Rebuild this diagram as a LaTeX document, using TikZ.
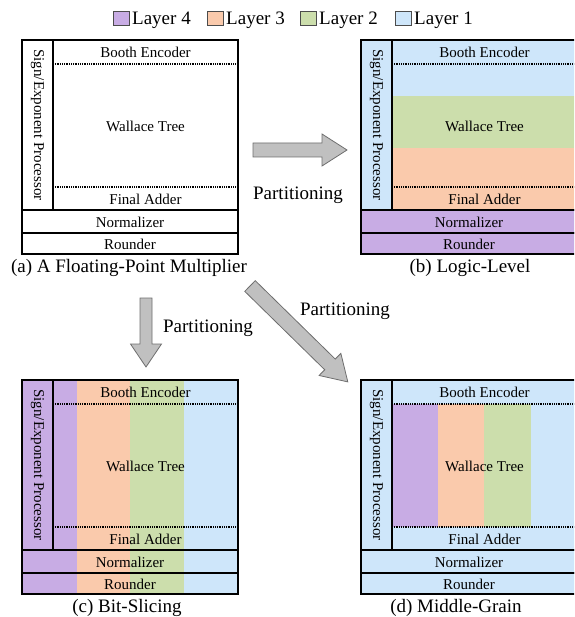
\documentclass[tikz,border=0pt]{standalone}
\usepackage{fontspec}
\setmainfont{Liberation Serif}
\definecolor{Lfour}{RGB}{200,172,228}
\definecolor{Lthree}{RGB}{250,202,172}
\definecolor{Ltwo}{RGB}{204,222,172}
\definecolor{Lone}{RGB}{206,230,250}
\definecolor{arrfill}{RGB}{192,192,192}
\definecolor{arrline}{RGB}{110,110,110}
\newcommand\mulpanel[1]{%
  \draw[frame] (0,0) rectangle (216,170);
  \draw[frame] (31,0) -- (31,170);
  \draw[frame] (0,170) rectangle (216,193);
  \draw[frame] (0,193) rectangle (216,214);
  \draw[dotline] (31,24) -- (216,24);
  \draw[dotline] (31,147) -- (216,147);
  \node[lbl] (#1be) at (123.5,12) {Booth Encoder};
  \node[lbl] (#1wt) at (123.5,86) {Wallace Tree};
  \node[lbl] (#1fa) at (123.5,159) {Final Adder};
  \node[lbl] (#1no) at (108,182) {Normalizer};
  \node[lbl] (#1ro) at (108,204) {Rounder};
  \node[lbl,rotate=-90] (#1se) at (15.5,85) {Sign/Exponent Processor};
}
\begin{document}
\begin{tikzpicture}[x=1pt,y=-1pt,
  frame/.style={line width=2.8pt,black},
  dotline/.style={line width=2pt,dash pattern=on 1pt off 0.8pt,black},
  lbl/.style={font=\fontsize{15}{18}\selectfont,inner sep=0pt},
  captxt/.style={font=\fontsize{19}{22}\selectfont,inner sep=0pt,anchor=base},
  legtxt/.style={font=\fontsize{19}{22}\selectfont,inner sep=0pt,anchor=base west},
  swatch/.style={draw=black!70,line width=0.6pt},
  blockarrow/.style={fill=arrfill,draw=arrline,line width=0.8pt,line join=miter}]
\useasboundingbox (0,0) rectangle (574,617);
\clip (0,0) rectangle (574,617);
% legend
\draw[swatch,fill=Lfour] (113,11) rectangle (129,25.5);
\node[legtxt] (l4) at (132,25) {Layer 4};
\draw[swatch,fill=Lthree] (207,11) rectangle (223,25.5);
\node[legtxt] (l3) at (226,25) {Layer 3};
\draw[swatch,fill=Ltwo] (300,11) rectangle (316,25.5);
\node[legtxt] (l2) at (319,25) {Layer 2};
\draw[swatch,fill=Lone] (395,11) rectangle (411,25.5);
\node[legtxt] (l1) at (414,25) {Layer 1};
% (a)
\begin{scope}[shift={(22,40)}]
  \mulpanel{a}
\end{scope}
\node[captxt] (capa) at (129,272) {(a) A Floating-Point Multiplier};
% (b)
\begin{scope}[shift={(361,40)}]
  \fill[Lone] (31,0) rectangle (216,56);
  \fill[Ltwo] (31,56) rectangle (216,108);
  \fill[Lthree] (31,108) rectangle (216,170);
  \fill[Lone] (0,0) rectangle (31,170);
  \fill[Lfour] (0,170) rectangle (216,214);
  \mulpanel{b}
\end{scope}
\node[captxt] (capb) at (470,272) {(b) Logic-Level};
% (c)
\begin{scope}[shift={(22,380)}]
  \fill[Lfour] (0,0) rectangle (55,214);
  \fill[Lthree] (55,0) rectangle (108,214);
  \fill[Ltwo] (108,0) rectangle (162,214);
  \fill[Lone] (162,0) rectangle (216,214);
  \mulpanel{c}
\end{scope}
\node[captxt] (capc) at (127,612) {(c) Bit-Slicing};
% (d)
\begin{scope}[shift={(361,380)}]
  \fill[Lone] (0,0) rectangle (216,214);
  \fill[Lfour] (31,24) rectangle (77,147);
  \fill[Lthree] (77,24) rectangle (123,147);
  \fill[Ltwo] (123,24) rectangle (170,147);
  \mulpanel{d}
\end{scope}
\node[captxt] (capd) at (456,612) {(d) Middle-Grain};
% arrows
\draw[blockarrow] (253,143) -- (322,143) -- (322,134) -- (347,150) -- (322,166) -- (322,157) -- (253,157) -- cycle;
\draw[blockarrow] (140,298) -- (152,298) -- (152,344) -- (161.5,344) -- (146,367) -- (130.5,344) -- (140,344) -- cycle;
\draw[blockarrow] (244.75,291.36) -- (255.25,280.64) -- (335.22,359.04) -- (340.85,353.33) -- (347.8,381.9) -- (319.1,375.47) -- (324.72,369.76) -- cycle;
\node[captxt] (p1) at (298,200) {Partitioning};
\node[captxt] (p2) at (208,332) {Partitioning};
\node[captxt] (p3) at (345,315) {Partitioning};
\end{tikzpicture}
\end{document}
